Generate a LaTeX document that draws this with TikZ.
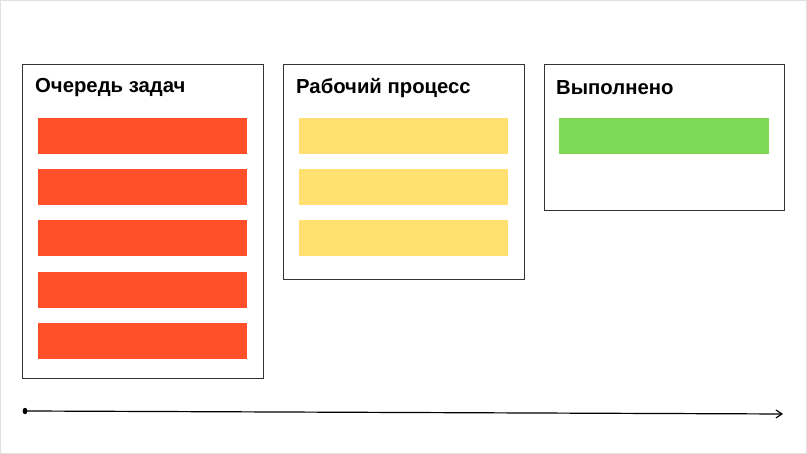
\documentclass[tikz,border=0pt]{standalone}
\usepackage{fontspec}
\setmainfont{Liberation Sans}
\usetikzlibrary{calc,arrows.meta}
\definecolor{todored}{RGB}{255,80,42}
\definecolor{workyellow}{RGB}{255,224,112}
\definecolor{donegreen}{RGB}{126,216,88}

\begin{document}
\begin{tikzpicture}[x=1pt,y=1pt,
    column/.style={draw=black!80, line width=0.8pt, fill=white},
    title/.style={anchor=west, inner sep=0pt, font=\bfseries\fontsize{20.3}{23}\selectfont},
    task/.style={minimum width=209pt, minimum height=36pt, inner sep=0pt, anchor=south west}]
    \useasboundingbox (0,0) rectangle (807,454);
    \draw[black!12, line width=1.2pt] (0.6,0.6) rectangle (806.4,453.4);
    % columns
    \draw[column] (22,76) rectangle (263,390);
    \draw[column] (283,175) rectangle (524,390);
    \draw[column] (544,244) rectangle (784,390);
    \node[title] (queue) at (35,366) {Очередь задач};
    \node[title] (work) at (296,366) {Рабочий процесс};
    \node[title] (done) at (556,366) {Выполнено};
    % tasks
    \node[task, fill=todored] (q1) at (38,300) {};
    \node[task, fill=todored] (q2) at (38,249) {};
    \node[task, fill=todored] (q3) at (38,198) {};
    \node[task, fill=todored] (q4) at (38,146) {};
    \node[task, fill=todored] (q5) at (38,95) {};
    \node[task, fill=workyellow] (w1) at (299,300) {};
    \node[task, fill=workyellow] (w2) at (299,249) {};
    \node[task, fill=workyellow] (w3) at (299,198) {};
    \node[task, fill=donegreen, minimum width=210pt] (d1) at (559,300) {};
    % time line
    \coordinate (start) at (25,43);
    \coordinate (stop) at (783,40);
    \fill (start) ellipse (2.4 and 3.2);
    \draw[line width=1.2pt, -{Straight Barb[length=6pt,width=8pt]}] (start) -- (stop);
\end{tikzpicture}
\end{document}
